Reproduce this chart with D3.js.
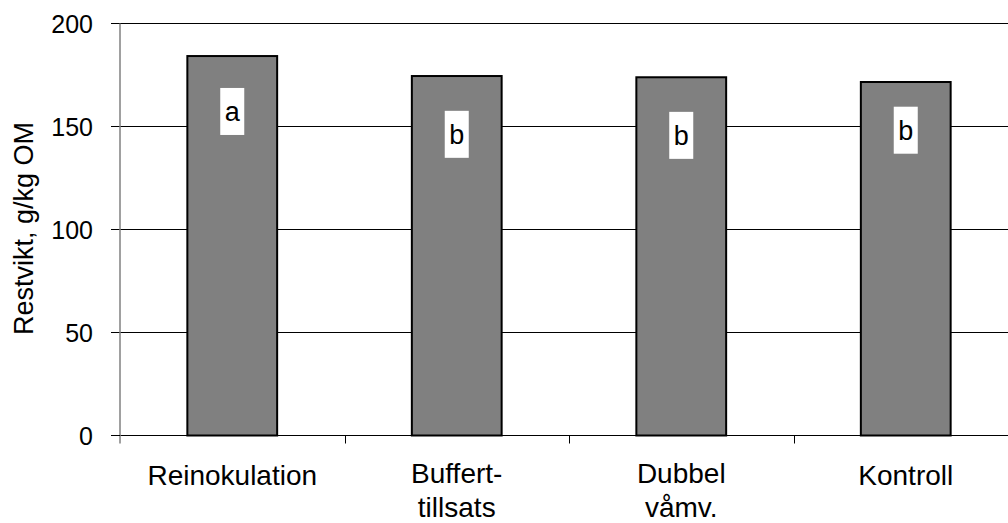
<!DOCTYPE html>
<html>
<head>
<meta charset="utf-8">
<script src="https://cdn.jsdelivr.net/npm/d3@7"></script>
<style>
  html, body { margin: 0; padding: 0; background: #fff; }
  svg { display: block; }
  text { font-family: "Liberation Sans", Arial, sans-serif; fill: #000; }
</style>
</head>
<body>
<svg id="chart" width="1008" height="523"></svg>
<script>
// Treatments (category labels, split into lines)
const categories = ["Reinokulation", "Buffert-tillsats", "Dubbel våmv.", "Kontroll"];
const categoryLines = [["Reinokulation"], ["Buffert-", "tillsats"], ["Dubbel", "våmv."], ["Kontroll"]];
// Residual weight, g/kg OM
const restvikt = [184.2, 174.5, 173.9, 171.6];
// Significance letters and where their boxes sit (value units)
const letters = ["a", "b", "b", "b"];
const letterAt = [157.3, 146.2, 145.7, 148.2];
// Y axis ticks
const yTicks = [0, 50, 100, 150, 200];

const svg = d3.select("#chart");
const plotLeft = 120, plotRight = 1018, plotTop = 23.5, plotBottom = 435.5;

const x = d3.scaleBand()
  .domain(categories)
  .range([plotLeft, plotRight])
  .paddingInner(0.6)
  .paddingOuter(0.3);
const step = x.step();

const y = d3.scaleLinear().domain([0, 200]).range([plotBottom, plotTop]);

// Horizontal gridlines (including the short tick stubs left of the axis)
svg.append("g").selectAll("line")
  .data(yTicks.filter(d => d > 0))
  .join("line")
  .attr("x1", plotLeft - 9).attr("x2", plotRight)
  .attr("y1", d => y(d)).attr("y2", d => y(d))
  .attr("stroke", "#000").attr("stroke-width", 1);

// Bars
svg.append("g").selectAll("rect")
  .data(categories)
  .join("rect")
  .attr("x", d => x(d))
  .attr("width", x.bandwidth())
  .attr("y", (d, i) => y(restvikt[i]))
  .attr("height", (d, i) => y(0) - y(restvikt[i]))
  .attr("fill", "#808080")
  .attr("stroke", "#000")
  .attr("stroke-width", 2);

// X axis line with category boundary ticks
svg.append("line")
  .attr("x1", plotLeft - 9).attr("x2", plotRight)
  .attr("y1", y(0)).attr("y2", y(0))
  .attr("stroke", "#000").attr("stroke-width", 1);
svg.append("g").selectAll("line")
  .data(categories.slice(1))
  .join("line")
  .attr("x1", d => Math.round(x(d) - step * 0.3) + 0.5)
  .attr("x2", d => Math.round(x(d) - step * 0.3) + 0.5)
  .attr("y1", y(0)).attr("y2", y(0) + 8)
  .attr("stroke", "#000").attr("stroke-width", 1);

// Y axis line (grey)
svg.append("line")
  .attr("x1", plotLeft).attr("x2", plotLeft)
  .attr("y1", y(200)).attr("y2", y(0) + 8)
  .attr("stroke", "#808080").attr("stroke-width", 1.5);
svg.append("line")
  .attr("x1", plotLeft - 9).attr("x2", plotLeft)
  .attr("y1", y(0)).attr("y2", y(0))
  .attr("stroke", "#000").attr("stroke-width", 1);

// Y tick labels
svg.append("g").selectAll("text")
  .data(yTicks)
  .join("text")
  .attr("x", 93)
  .attr("y", d => y(d) + 9)
  .attr("text-anchor", "end")
  .attr("font-size", 25)
  .text(d => d);

// Category labels
svg.append("g").selectAll("text")
  .data(categories)
  .join("text")
  .attr("x", d => x(d) + x.bandwidth() / 2)
  .attr("y", (d, i) => categoryLines[i].length > 1 ? 483 : 485)
  .attr("text-anchor", "middle")
  .attr("font-size", 28)
  .each(function (d, i) {
    d3.select(this).selectAll("tspan")
      .data(categoryLines[i])
      .join("tspan")
      .attr("x", x(d) + x.bandwidth() / 2)
      .attr("dy", (t, j) => j === 0 ? 0 : 34)
      .text(t => t);
  });

// Significance letters in white boxes
const lab = svg.append("g").selectAll("g")
  .data(categories)
  .join("g");
lab.append("rect")
  .attr("x", d => x(d) + x.bandwidth() / 2 - 12)
  .attr("y", (d, i) => y(letterAt[i]) - 23.5)
  .attr("width", 24)
  .attr("height", 47)
  .attr("fill", "#fff");
lab.append("text")
  .attr("x", d => x(d) + x.bandwidth() / 2)
  .attr("y", (d, i) => y(letterAt[i]) + 10)
  .attr("text-anchor", "middle")
  .attr("font-size", 27)
  .text((d, i) => letters[i]);

// Y axis title
svg.append("text")
  .attr("transform", "translate(32.5," + (y(100) - 1) + ") rotate(-90)")
  .attr("text-anchor", "middle")
  .attr("font-size", 27)
  .text("Restvikt, g/kg OM");
</script>
</body>
</html>
